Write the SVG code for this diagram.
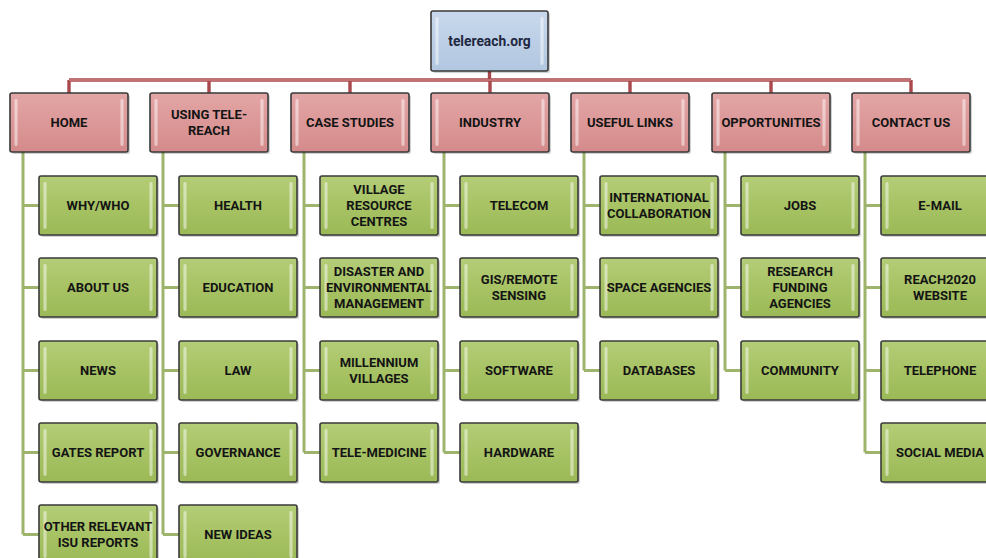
<svg xmlns="http://www.w3.org/2000/svg" width="986" height="558" viewBox="0 0 986 558">
  <defs>
    <linearGradient id="gBlue" x1="0" y1="0" x2="0" y2="1">
      <stop offset="0" stop-color="#c9d9ec"/>
      <stop offset="0.5" stop-color="#bccfe6"/>
      <stop offset="1" stop-color="#b2c7e0"/>
    </linearGradient>
    <linearGradient id="gRed" x1="0" y1="0" x2="0" y2="1">
      <stop offset="0" stop-color="#e3a6a6"/>
      <stop offset="0.5" stop-color="#dc9898"/>
      <stop offset="1" stop-color="#d48a8b"/>
    </linearGradient>
    <linearGradient id="gGreen" x1="0" y1="0" x2="0" y2="1">
      <stop offset="0" stop-color="#b4cd78"/>
      <stop offset="0.5" stop-color="#a7c364"/>
      <stop offset="1" stop-color="#9bb957"/>
    </linearGradient>
    <linearGradient id="gShine" x1="0" y1="0" x2="1" y2="0">
      <stop offset="0" stop-color="#ffffff" stop-opacity="0.25"/>
      <stop offset="0.5" stop-color="#ffffff" stop-opacity="0.85"/>
      <stop offset="1" stop-color="#ffffff" stop-opacity="0.25"/>
    </linearGradient>
  </defs>
  <style>
    .box { stroke: #3a3a3a; stroke-width: 1.6; }
    .root { fill: url(#gBlue); }
    .head { fill: url(#gRed); }
    .leaf { fill: url(#gGreen); }
    .shadow { fill: #000000; opacity: 0.18; }
    .shine { fill: url(#gShine); opacity: 0.7; }
    text { font-family: Roboto, "Liberation Sans", sans-serif; font-weight: bold; font-size: 13px; text-anchor: middle; fill: #141414; }
    .rootText { fill: #1f2840; font-size: 13.8px; }
    .redLine { stroke: #a8484c; stroke-width: 3.4; fill: none; }
    .redCore { stroke: #d99a9b; stroke-width: 1; fill: none; }
    .greenLine { stroke: #9eb46c; stroke-width: 3; fill: none; }
  </style>

  <!-- connectors -->
  <g id="connectors">
    <path class="redLine" d="M489.5 71V80M69 80H911M69 80V93M209 80V93M350 80V93M490 80V93M630 80V93M771 80V93M911 80V93"/>
    <path class="redCore" d="M69 80H911"/>
    <!-- HOME -->
    <path class="greenLine" d="M23 152V534.5M23 205.5H39M23 287.5H39M23 370.5H39M23 452.5H39M23 534.5H39"/>
    <!-- USING TELE-REACH -->
    <path class="greenLine" d="M163 152V534.5M163 205.5H179M163 287.5H179M163 370.5H179M163 452.5H179M163 534.5H179"/>
    <!-- CASE STUDIES -->
    <path class="greenLine" d="M304 152V452.5M304 205.5H320M304 287.5H320M304 370.5H320M304 452.5H320"/>
    <!-- INDUSTRY -->
    <path class="greenLine" d="M444 152V452.5M444 205.5H460M444 287.5H460M444 370.5H460M444 452.5H460"/>
    <!-- USEFUL LINKS -->
    <path class="greenLine" d="M584 152V370.5M584 205.5H600M584 287.5H600M584 370.5H600"/>
    <!-- OPPORTUNITIES -->
    <path class="greenLine" d="M725 152V370.5M725 205.5H741M725 287.5H741M725 370.5H741"/>
    <!-- CONTACT US -->
    <path class="greenLine" d="M865 152V452.5M865 205.5H881M865 287.5H881M865 370.5H881M865 452.5H881"/>
  </g>

  <!-- root -->
  <g id="n-root">
    <rect class="shadow" x="433" y="13" width="117" height="60" rx="2"/>
    <rect class="box root" x="431" y="11" width="117" height="60" rx="2"/>
    <rect class="shine" x="435" y="17" width="4" height="48" rx="2"/>
    <rect class="shine" x="540" y="17" width="4" height="48" rx="2"/>
    <text class="rootText" x="489.5" y="45.5">telereach.org</text>
  </g>

  <!-- section headers -->
  <g id="n-home">
    <rect class="shadow" x="12" y="95" width="118" height="59" rx="2"/>
    <rect class="box head" x="10" y="93" width="118" height="59" rx="2"/>
    <rect class="shine" x="14" y="99" width="4" height="47" rx="2"/>
    <rect class="shine" x="120" y="99" width="4" height="47" rx="2"/>
    <text x="69" y="127">HOME</text>
  </g>
  <g id="n-using">
    <rect class="shadow" x="152" y="95" width="118" height="59" rx="2"/>
    <rect class="box head" x="150" y="93" width="118" height="59" rx="2"/>
    <rect class="shine" x="154" y="99" width="4" height="47" rx="2"/>
    <rect class="shine" x="260" y="99" width="4" height="47" rx="2"/>
    <text x="209" y="119">USING TELE-</text>
    <text x="209" y="135">REACH</text>
  </g>
  <g id="n-case">
    <rect class="shadow" x="293" y="95" width="118" height="59" rx="2"/>
    <rect class="box head" x="291" y="93" width="118" height="59" rx="2"/>
    <rect class="shine" x="295" y="99" width="4" height="47" rx="2"/>
    <rect class="shine" x="401" y="99" width="4" height="47" rx="2"/>
    <text x="350" y="127">CASE STUDIES</text>
  </g>
  <g id="n-industry">
    <rect class="shadow" x="433" y="95" width="118" height="59" rx="2"/>
    <rect class="box head" x="431" y="93" width="118" height="59" rx="2"/>
    <rect class="shine" x="435" y="99" width="4" height="47" rx="2"/>
    <rect class="shine" x="541" y="99" width="4" height="47" rx="2"/>
    <text x="490" y="127">INDUSTRY</text>
  </g>
  <g id="n-links">
    <rect class="shadow" x="573" y="95" width="118" height="59" rx="2"/>
    <rect class="box head" x="571" y="93" width="118" height="59" rx="2"/>
    <rect class="shine" x="575" y="99" width="4" height="47" rx="2"/>
    <rect class="shine" x="681" y="99" width="4" height="47" rx="2"/>
    <text x="630" y="127">USEFUL LINKS</text>
  </g>
  <g id="n-opps">
    <rect class="shadow" x="714" y="95" width="118" height="59" rx="2"/>
    <rect class="box head" x="712" y="93" width="118" height="59" rx="2"/>
    <rect class="shine" x="716" y="99" width="4" height="47" rx="2"/>
    <rect class="shine" x="822" y="99" width="4" height="47" rx="2"/>
    <text x="771" y="127">OPPORTUNITIES</text>
  </g>
  <g id="n-contact">
    <rect class="shadow" x="854" y="95" width="118" height="59" rx="2"/>
    <rect class="box head" x="852" y="93" width="118" height="59" rx="2"/>
    <rect class="shine" x="856" y="99" width="4" height="47" rx="2"/>
    <rect class="shine" x="962" y="99" width="4" height="47" rx="2"/>
    <text x="911" y="127">CONTACT US</text>
  </g>

  <!-- HOME children -->
  <g id="n-whywho">
    <rect class="shadow" x="41" y="178" width="118" height="59" rx="2"/>
    <rect class="box leaf" x="39" y="176" width="118" height="59" rx="2"/>
    <rect class="shine" x="43" y="182" width="4" height="47" rx="2"/>
    <rect class="shine" x="149" y="182" width="4" height="47" rx="2"/>
    <text x="98" y="210">WHY/WHO</text>
  </g>
  <g id="n-about">
    <rect class="shadow" x="41" y="260" width="118" height="59" rx="2"/>
    <rect class="box leaf" x="39" y="258" width="118" height="59" rx="2"/>
    <rect class="shine" x="43" y="264" width="4" height="47" rx="2"/>
    <rect class="shine" x="149" y="264" width="4" height="47" rx="2"/>
    <text x="98" y="292">ABOUT US</text>
  </g>
  <g id="n-news">
    <rect class="shadow" x="41" y="343" width="118" height="59" rx="2"/>
    <rect class="box leaf" x="39" y="341" width="118" height="59" rx="2"/>
    <rect class="shine" x="43" y="347" width="4" height="47" rx="2"/>
    <rect class="shine" x="149" y="347" width="4" height="47" rx="2"/>
    <text x="98" y="375">NEWS</text>
  </g>
  <g id="n-gates">
    <rect class="shadow" x="41" y="425" width="118" height="59" rx="2"/>
    <rect class="box leaf" x="39" y="423" width="118" height="59" rx="2"/>
    <rect class="shine" x="43" y="429" width="4" height="47" rx="2"/>
    <rect class="shine" x="149" y="429" width="4" height="47" rx="2"/>
    <text x="98" y="457">GATES REPORT</text>
  </g>
  <g id="n-isu">
    <rect class="shadow" x="41" y="507" width="118" height="59" rx="2"/>
    <rect class="box leaf" x="39" y="505" width="118" height="59" rx="2"/>
    <rect class="shine" x="43" y="511" width="4" height="47" rx="2"/>
    <rect class="shine" x="149" y="511" width="4" height="47" rx="2"/>
    <text x="98" y="531">OTHER RELEVANT</text>
    <text x="98" y="547">ISU REPORTS</text>
  </g>

  <!-- USING TELE-REACH children -->
  <g id="n-health">
    <rect class="shadow" x="181" y="178" width="118" height="59" rx="2"/>
    <rect class="box leaf" x="179" y="176" width="118" height="59" rx="2"/>
    <rect class="shine" x="183" y="182" width="4" height="47" rx="2"/>
    <rect class="shine" x="289" y="182" width="4" height="47" rx="2"/>
    <text x="238" y="210">HEALTH</text>
  </g>
  <g id="n-education">
    <rect class="shadow" x="181" y="260" width="118" height="59" rx="2"/>
    <rect class="box leaf" x="179" y="258" width="118" height="59" rx="2"/>
    <rect class="shine" x="183" y="264" width="4" height="47" rx="2"/>
    <rect class="shine" x="289" y="264" width="4" height="47" rx="2"/>
    <text x="238" y="292">EDUCATION</text>
  </g>
  <g id="n-law">
    <rect class="shadow" x="181" y="343" width="118" height="59" rx="2"/>
    <rect class="box leaf" x="179" y="341" width="118" height="59" rx="2"/>
    <rect class="shine" x="183" y="347" width="4" height="47" rx="2"/>
    <rect class="shine" x="289" y="347" width="4" height="47" rx="2"/>
    <text x="238" y="375">LAW</text>
  </g>
  <g id="n-governance">
    <rect class="shadow" x="181" y="425" width="118" height="59" rx="2"/>
    <rect class="box leaf" x="179" y="423" width="118" height="59" rx="2"/>
    <rect class="shine" x="183" y="429" width="4" height="47" rx="2"/>
    <rect class="shine" x="289" y="429" width="4" height="47" rx="2"/>
    <text x="238" y="457">GOVERNANCE</text>
  </g>
  <g id="n-ideas">
    <rect class="shadow" x="181" y="507" width="118" height="59" rx="2"/>
    <rect class="box leaf" x="179" y="505" width="118" height="59" rx="2"/>
    <rect class="shine" x="183" y="511" width="4" height="47" rx="2"/>
    <rect class="shine" x="289" y="511" width="4" height="47" rx="2"/>
    <text x="238" y="539">NEW IDEAS</text>
  </g>

  <!-- CASE STUDIES children -->
  <g id="n-village">
    <rect class="shadow" x="322" y="178" width="118" height="59" rx="2"/>
    <rect class="box leaf" x="320" y="176" width="118" height="59" rx="2"/>
    <rect class="shine" x="324" y="182" width="4" height="47" rx="2"/>
    <rect class="shine" x="430" y="182" width="4" height="47" rx="2"/>
    <text x="379" y="194">VILLAGE</text>
    <text x="379" y="210">RESOURCE</text>
    <text x="379" y="226">CENTRES</text>
  </g>
  <g id="n-disaster">
    <rect class="shadow" x="322" y="260" width="118" height="59" rx="2"/>
    <rect class="box leaf" x="320" y="258" width="118" height="59" rx="2"/>
    <rect class="shine" x="324" y="264" width="4" height="47" rx="2"/>
    <rect class="shine" x="430" y="264" width="4" height="47" rx="2"/>
    <text x="379" y="276">DISASTER AND</text>
    <text x="379" y="292">ENVIRONMENTAL</text>
    <text x="379" y="308">MANAGEMENT</text>
  </g>
  <g id="n-millennium">
    <rect class="shadow" x="322" y="343" width="118" height="59" rx="2"/>
    <rect class="box leaf" x="320" y="341" width="118" height="59" rx="2"/>
    <rect class="shine" x="324" y="347" width="4" height="47" rx="2"/>
    <rect class="shine" x="430" y="347" width="4" height="47" rx="2"/>
    <text x="379" y="367">MILLENNIUM</text>
    <text x="379" y="383">VILLAGES</text>
  </g>
  <g id="n-telemed">
    <rect class="shadow" x="322" y="425" width="118" height="59" rx="2"/>
    <rect class="box leaf" x="320" y="423" width="118" height="59" rx="2"/>
    <rect class="shine" x="324" y="429" width="4" height="47" rx="2"/>
    <rect class="shine" x="430" y="429" width="4" height="47" rx="2"/>
    <text x="379" y="457">TELE-MEDICINE</text>
  </g>

  <!-- INDUSTRY children -->
  <g id="n-telecom">
    <rect class="shadow" x="462" y="178" width="118" height="59" rx="2"/>
    <rect class="box leaf" x="460" y="176" width="118" height="59" rx="2"/>
    <rect class="shine" x="464" y="182" width="4" height="47" rx="2"/>
    <rect class="shine" x="570" y="182" width="4" height="47" rx="2"/>
    <text x="519" y="210">TELECOM</text>
  </g>
  <g id="n-gis">
    <rect class="shadow" x="462" y="260" width="118" height="59" rx="2"/>
    <rect class="box leaf" x="460" y="258" width="118" height="59" rx="2"/>
    <rect class="shine" x="464" y="264" width="4" height="47" rx="2"/>
    <rect class="shine" x="570" y="264" width="4" height="47" rx="2"/>
    <text x="519" y="284">GIS/REMOTE</text>
    <text x="519" y="300">SENSING</text>
  </g>
  <g id="n-software">
    <rect class="shadow" x="462" y="343" width="118" height="59" rx="2"/>
    <rect class="box leaf" x="460" y="341" width="118" height="59" rx="2"/>
    <rect class="shine" x="464" y="347" width="4" height="47" rx="2"/>
    <rect class="shine" x="570" y="347" width="4" height="47" rx="2"/>
    <text x="519" y="375">SOFTWARE</text>
  </g>
  <g id="n-hardware">
    <rect class="shadow" x="462" y="425" width="118" height="59" rx="2"/>
    <rect class="box leaf" x="460" y="423" width="118" height="59" rx="2"/>
    <rect class="shine" x="464" y="429" width="4" height="47" rx="2"/>
    <rect class="shine" x="570" y="429" width="4" height="47" rx="2"/>
    <text x="519" y="457">HARDWARE</text>
  </g>

  <!-- USEFUL LINKS children -->
  <g id="n-intl">
    <rect class="shadow" x="602" y="178" width="118" height="59" rx="2"/>
    <rect class="box leaf" x="600" y="176" width="118" height="59" rx="2"/>
    <rect class="shine" x="604" y="182" width="4" height="47" rx="2"/>
    <rect class="shine" x="710" y="182" width="4" height="47" rx="2"/>
    <text x="659" y="202">INTERNATIONAL</text>
    <text x="659" y="218">COLLABORATION</text>
  </g>
  <g id="n-space">
    <rect class="shadow" x="602" y="260" width="118" height="59" rx="2"/>
    <rect class="box leaf" x="600" y="258" width="118" height="59" rx="2"/>
    <rect class="shine" x="604" y="264" width="4" height="47" rx="2"/>
    <rect class="shine" x="710" y="264" width="4" height="47" rx="2"/>
    <text x="659" y="292">SPACE AGENCIES</text>
  </g>
  <g id="n-databases">
    <rect class="shadow" x="602" y="343" width="118" height="59" rx="2"/>
    <rect class="box leaf" x="600" y="341" width="118" height="59" rx="2"/>
    <rect class="shine" x="604" y="347" width="4" height="47" rx="2"/>
    <rect class="shine" x="710" y="347" width="4" height="47" rx="2"/>
    <text x="659" y="375">DATABASES</text>
  </g>

  <!-- OPPORTUNITIES children -->
  <g id="n-jobs">
    <rect class="shadow" x="743" y="178" width="118" height="59" rx="2"/>
    <rect class="box leaf" x="741" y="176" width="118" height="59" rx="2"/>
    <rect class="shine" x="745" y="182" width="4" height="47" rx="2"/>
    <rect class="shine" x="851" y="182" width="4" height="47" rx="2"/>
    <text x="800" y="210">JOBS</text>
  </g>
  <g id="n-funding">
    <rect class="shadow" x="743" y="260" width="118" height="59" rx="2"/>
    <rect class="box leaf" x="741" y="258" width="118" height="59" rx="2"/>
    <rect class="shine" x="745" y="264" width="4" height="47" rx="2"/>
    <rect class="shine" x="851" y="264" width="4" height="47" rx="2"/>
    <text x="800" y="276">RESEARCH</text>
    <text x="800" y="292">FUNDING</text>
    <text x="800" y="308">AGENCIES</text>
  </g>
  <g id="n-community">
    <rect class="shadow" x="743" y="343" width="118" height="59" rx="2"/>
    <rect class="box leaf" x="741" y="341" width="118" height="59" rx="2"/>
    <rect class="shine" x="745" y="347" width="4" height="47" rx="2"/>
    <rect class="shine" x="851" y="347" width="4" height="47" rx="2"/>
    <text x="800" y="375">COMMUNITY</text>
  </g>

  <!-- CONTACT US children -->
  <g id="n-email">
    <rect class="shadow" x="883" y="178" width="118" height="59" rx="2"/>
    <rect class="box leaf" x="881" y="176" width="118" height="59" rx="2"/>
    <rect class="shine" x="885" y="182" width="4" height="47" rx="2"/>
    <text x="940" y="210">E-MAIL</text>
  </g>
  <g id="n-reach2020">
    <rect class="shadow" x="883" y="260" width="118" height="59" rx="2"/>
    <rect class="box leaf" x="881" y="258" width="118" height="59" rx="2"/>
    <rect class="shine" x="885" y="264" width="4" height="47" rx="2"/>
    <text x="940" y="284">REACH2020</text>
    <text x="940" y="300">WEBSITE</text>
  </g>
  <g id="n-telephone">
    <rect class="shadow" x="883" y="343" width="118" height="59" rx="2"/>
    <rect class="box leaf" x="881" y="341" width="118" height="59" rx="2"/>
    <rect class="shine" x="885" y="347" width="4" height="47" rx="2"/>
    <text x="940" y="375">TELEPHONE</text>
  </g>
  <g id="n-social">
    <rect class="shadow" x="883" y="425" width="118" height="59" rx="2"/>
    <rect class="box leaf" x="881" y="423" width="118" height="59" rx="2"/>
    <rect class="shine" x="885" y="429" width="4" height="47" rx="2"/>
    <text x="940" y="457">SOCIAL MEDIA</text>
  </g>
</svg>
